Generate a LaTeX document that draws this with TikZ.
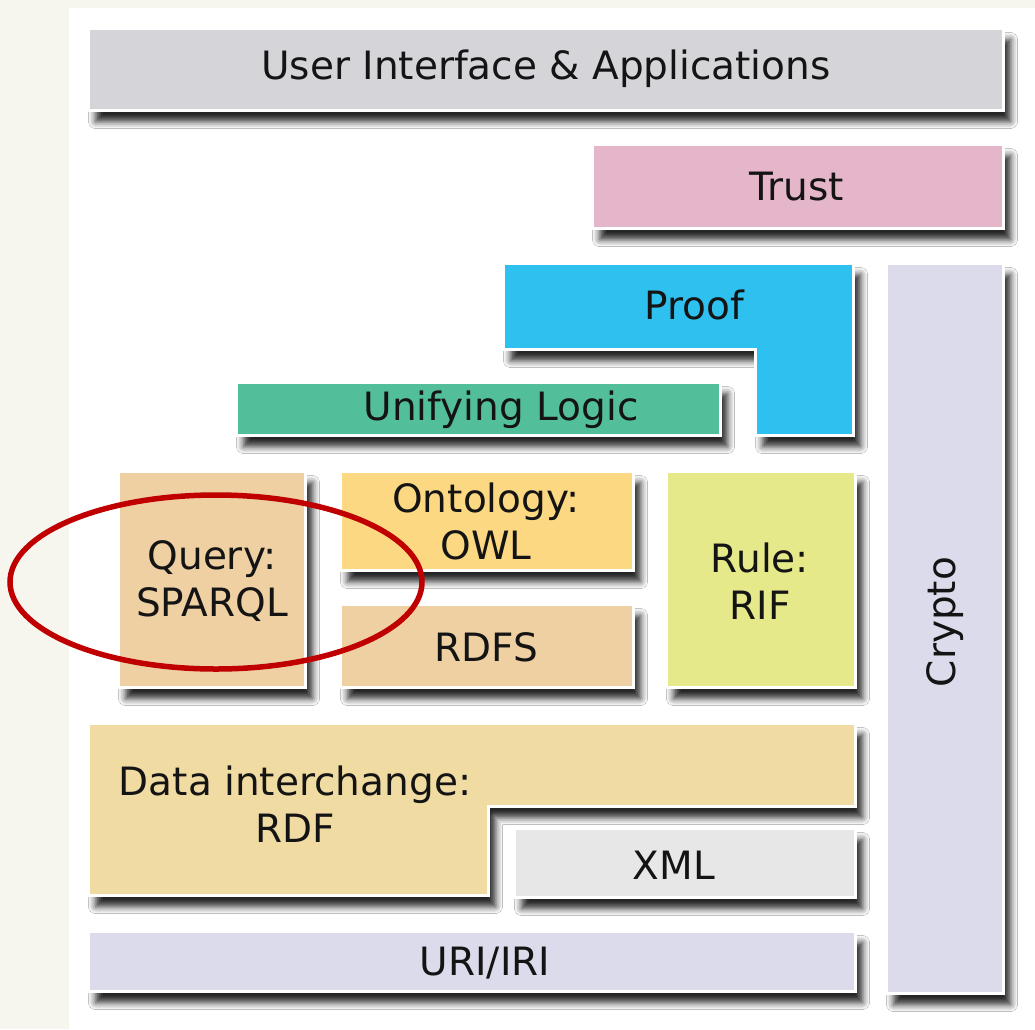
\documentclass[tikz,border=0pt]{standalone}
\usepackage{fontspec}
\setmainfont{DejaVu Sans}
\usetikzlibrary{shadows.blur}
\definecolor{bgbeige}{HTML}{F6F6EF}
\definecolor{cui}{HTML}{D4D4D9}
\definecolor{ctrust}{HTML}{E5B5C9}
\definecolor{ccrypto}{HTML}{DBDBEB}
\definecolor{cproof}{HTML}{2EC0EE}
\definecolor{clogic}{HTML}{52BF9A}
\definecolor{cquery}{HTML}{EFD0A3}
\definecolor{conto}{HTML}{FDD882}
\definecolor{crule}{HTML}{E6E98A}
\definecolor{cdata}{HTML}{F0DCA2}
\definecolor{cxml}{HTML}{E7E7E7}
\definecolor{cmark}{HTML}{C00000}
\tikzset{
  layer/.style={draw=white, line width=3pt,
    blur shadow={shadow xshift=7pt, shadow yshift=-11pt, shadow blur radius=7pt, shadow opacity=85}},
  lbl/.style={font=\fontsize{39}{47}\selectfont, text=black!92, align=center, inner sep=0pt},
  redring/.style={draw=cmark, line width=5.5pt}
}
\begin{document}
\begin{tikzpicture}[x=1pt,y=-1pt]
\useasboundingbox (0,0) rectangle (1035,1029);
\fill[bgbeige] (0,0) rectangle (1035,1029);
\fill[white] (69,8) rectangle (1035,1029);
% shapes
\draw[layer, fill=cui] (88.5,28.5) rectangle (1003.5,110.5);
\draw[layer, fill=ctrust] (592.5,144.5) rectangle (1003.5,228.5);
\draw[layer, fill=ccrypto] (886.5,263.5) rectangle (1003.5,993.5);
\draw[layer, fill=cproof] (503.5,263.5) -- (853.5,263.5) -- (853.5,435.5) -- (755.5,435.5) -- (755.5,349.5) -- (503.5,349.5) -- cycle;
\draw[layer, fill=clogic] (236.5,382.5) rectangle (720.5,435.5);
\draw[layer, fill=cquery] (118.5,471.5) rectangle (305.5,687.5);
\draw[layer, fill=conto] (340.5,471.5) rectangle (633.5,570.5);
\draw[layer, fill=cquery] (340.5,604.5) rectangle (633.5,687.5);
\draw[layer, fill=crule] (666.5,471.5) rectangle (855.5,687.5);
\draw[layer, fill=cdata] (88.5,723.5) -- (855.5,723.5) -- (855.5,806.5) -- (488.5,806.5) -- (488.5,895.5) -- (88.5,895.5) -- cycle;
\draw[layer, fill=cxml] (514.5,828.5) rectangle (855.5,897.5);
\draw[layer, fill=ccrypto] (88.5,931.5) rectangle (855.5,991.5);
% labels
\node[lbl] (ui) at (546,69) {User Interface \& Applications};
\node[lbl] (trust) at (797,187) {Trust};
\node[lbl] (proof) at (694,305) {Proof};
\node[lbl] (logic) at (501,410) {Unifying Logic};
\node[lbl] (query) at (212,581) {Query:\\SPARQL};
\node[lbl] (onto) at (486,521) {Ontology:\\OWL};
\node[lbl] (rdfs) at (486,647) {RDFS};
\node[lbl] (rule) at (760,581) {Rule:\\RIF};
\node[lbl, rotate=90] (crypto) at (945,622) {Crypto};
\node[lbl] (data) at (295,804) {Data interchange:\\RDF};
\node[lbl] (xml) at (674,865) {XML};
\node[lbl] (uri) at (485,963) {URI/IRI};
% highlight
\draw[redring] (216,582) ellipse [x radius=206, y radius=87];
\end{tikzpicture}
\end{document}
